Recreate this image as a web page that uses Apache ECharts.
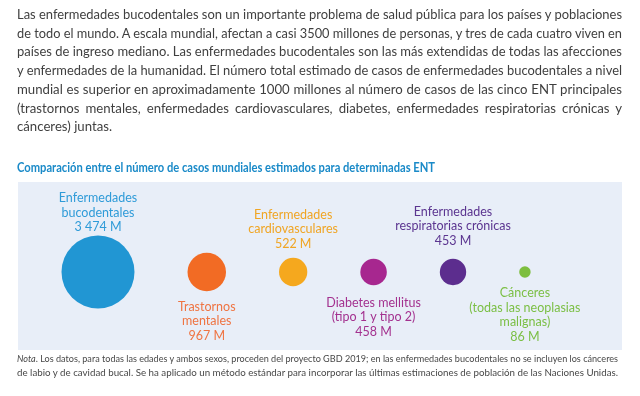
<!DOCTYPE html>
<html>
<head>
<meta charset="utf-8">
<style>
  html, body { margin: 0; padding: 0; background: #fff; }
  #wrap { position: relative; width: 640px; height: 396px; overflow: hidden; }
  #chart { position: absolute; left: 0; top: 0; width: 640px; height: 396px; }
  .txt { position: absolute; font-family: Lato, 'Noto Sans', sans-serif; color: #3f3f3f; z-index: 2; }
  .txt div { white-space: normal; }
  #para { left: 17px; top: 5px; width: 605px; font-size: 13.2px; line-height: 18.7px; }
  #note { left: 17px; top: 351px; width: 601px; font-size: 10px; line-height: 14px; color: #474747; }
</style>
</head>
<body>
<div id="wrap">
  <div id="chart"></div>
  <div id="para" class="txt"></div>
  <div id="note" class="txt"></div>
</div>
<script src="https://cdn.jsdelivr.net/npm/echarts@6/dist/echarts.min.js"></script>
<script type="text/javascript">
// texto introductorio (una entrada por línea)
var introLines = [
  'Las enfermedades bucodentales son un importante problema de salud pública para los países y poblaciones',
  'de todo el mundo.  A escala mundial, afectan a casi 3500 millones de personas, y tres de cada cuatro viven en',
  'países de ingreso mediano. Las enfermedades bucodentales son las más extendidas de todas las afecciones',
  'y enfermedades de la humanidad. El número total estimado de casos de enfermedades bucodentales a nivel',
  'mundial es superior en aproximadamente 1000 millones al número de casos de las cinco ENT principales',
  '(trastornos mentales, enfermedades cardiovasculares, diabetes, enfermedades respiratorias crónicas y',
  'cánceres) juntas.'
];
var noteLines = [
  '<i>Nota</i>. Los datos, para todas las edades y ambos sexos, proceden del proyecto GBD 2019; en las enfermedades bucodentales no se incluyen los cánceres',
  'de labio y de cavidad bucal. Se ha aplicado un método estándar para incorporar las últimas estimaciones de población de las Naciones Unidas.'
];
var chartTitle = 'Comparación entre el número de casos mundiales estimados para determinadas ENT';

// datos
var categories = ['Enfermedades\nbucodentales', 'Trastornos\nmentales', 'Enfermedades\ncardiovasculares',
  'Diabetes mellitus\n(tipo 1 y tipo 2)', 'Enfermedades\nrespiratorias crónicas', 'Cánceres\n(todas las neoplasias\nmalignas)'];
var casesMillions = [3474, 967, 522, 458, 453, 86];
var valueLabels = ['3 474 M', '967 M', '522 M', '458 M', '453 M', '86 M'];

// estilos
var bubbleColors = ['#2196d3', '#f26b24', '#f5a81e', '#a7278f', '#5c2d8e', '#7dbe3f'];
var labelColors = ['#2f9bd8', '#ef7442', '#f0a524', '#a3318f', '#5b3590', '#7bbf45'];
var labelSide = ['top', 'bottom', 'top', 'bottom', 'top', 'bottom'];
var labelGap = [1, 8, 7, 10, 11, 8];

var FONT = "Lato, 'Noto Sans', sans-serif";

// líneas justificadas; si una línea no cabe se comprime en horizontal
function fitLines(el, lines, target) {
  el.innerHTML = '';
  lines.forEach(function (html, i) {
    var row = document.createElement('div');
    var s = document.createElement('span');
    s.innerHTML = html;
    s.style.whiteSpace = 'nowrap';
    s.style.display = 'inline-block';
    row.appendChild(s);
    el.appendChild(row);
    var w = s.getBoundingClientRect().width;
    var last = i === lines.length - 1;
    if (w > target - 0.5) {
      s.style.transformOrigin = '0 0';
      s.style.transform = 'scaleX(' + (target / w) + ')';
    } else if (!last) {
      s.style.display = 'inline';
      s.style.whiteSpace = 'normal';
      row.style.textAlign = 'justify';
      row.style.textAlignLast = 'justify';
    }
  });
}
fitLines(document.getElementById('para'), introLines, 605);
fitLines(document.getElementById('note'), noteLines, 601);

// el título va algo condensado, como en el original
var titleFont = 'bold 13px Lato';
var ctx = document.createElement('canvas').getContext('2d');
ctx.font = titleFont;
var titleScale = Math.min(1, 418 / ctx.measureText(chartTitle).width);

// burbujas: área proporcional al valor, separadas por un hueco constante
var sizeScale = 73 / Math.sqrt(casesMillions[0]);
var gap = 53;
var x = 98 - sizeScale * Math.sqrt(casesMillions[0]) / 2;
var points = casesMillions.map(function (v, i) {
  var d = sizeScale * Math.sqrt(v);
  var cx = x + d / 2;
  x += d + gap;
  return {
    name: categories[i].replace(/\n/g, ' '),
    value: [cx, 0],
    symbolSize: d,
    itemStyle: { color: bubbleColors[i], opacity: 1 },
    label: {
      position: labelSide[i],
      distance: labelGap[i],
      color: labelColors[i],
      formatter: categories[i] + '\n' + valueLabels[i]
    }
  };
});

var myChart = echarts.init(document.getElementById('chart'));
var option = {
  animation: false,
  graphic: [
    { type: 'rect', z: -10, shape: { x: 18, y: 182, width: 604, height: 168 }, style: { fill: '#e8eef8' } },
    {
      type: 'text', x: 17, y: 168, scaleX: titleScale,
      style: { text: chartTitle, font: titleFont, fill: '#1a8ac8', verticalAlign: 'middle' }
    }
  ],
  grid: { left: 0, right: 0, top: 222, bottom: 74 },
  xAxis: { type: 'value', min: 0, max: 640, show: false },
  yAxis: { type: 'value', min: -1, max: 1, show: false },
  series: [{
    type: 'scatter',
    symbol: 'circle',
    data: points,
    label: {
      show: true,
      fontSize: 12.5,
      lineHeight: 14.5,
      fontFamily: FONT,
      align: 'center'
    },
    emphasis: { disabled: true }
  }]
};
myChart.setOption(option);
</script>
</body>
</html>
